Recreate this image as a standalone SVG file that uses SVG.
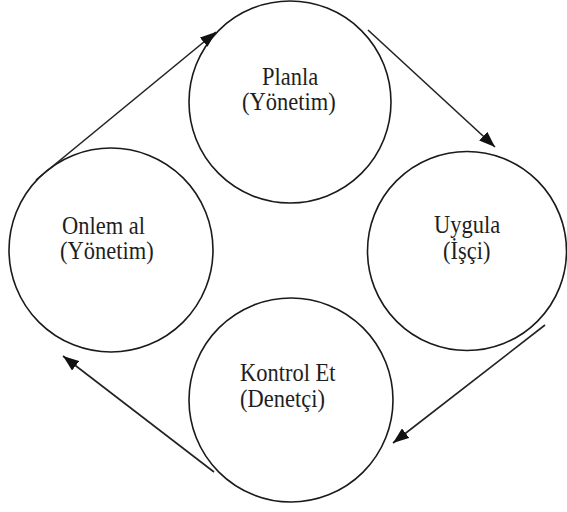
<svg xmlns="http://www.w3.org/2000/svg" width="567" height="512" viewBox="0 0 567 512">
  <style>
    .node circle { fill: #ffffff; stroke: #1a1a1a; stroke-width: 1.6; }
    .node text { font-family: "Liberation Serif", "Times New Roman", serif; font-size: 22.5px; fill: #1e1e1e; }
    #connectors line { stroke: #222222; stroke-width: 1.6; fill: none; marker-end: url(#head); }
  </style>
  <defs>
    <marker id="head" markerUnits="userSpaceOnUse" markerWidth="17" markerHeight="12" refX="16" refY="6" orient="auto">
      <path d="M0,0 L16,6 L0,12 Z" fill="#111111"/>
    </marker>
  </defs>

  <rect width="567" height="512" fill="#ffffff"/>

  <!-- labels are slightly stretched vertically, as in the printed chart -->
  <g id="node-planla" class="node">
    <circle cx="290" cy="102" r="101"/>
    <text transform="translate(262,85) scale(1,1.12)">Planla</text>
    <text transform="translate(242,110) scale(1,1.12)">(Yönetim)</text>
  </g>

  <g id="node-uygula" class="node">
    <circle cx="467" cy="251" r="99.5"/>
    <text transform="translate(434,233) scale(1,1.12)">Uygula</text>
    <text transform="translate(443,259) scale(1,1.12)">(İşçi)</text>
  </g>

  <g id="node-kontrol" class="node">
    <circle cx="291" cy="400" r="102"/>
    <text transform="translate(240,381) scale(1,1.12)">Kontrol Et</text>
    <text transform="translate(240,407) scale(1,1.12)">(Denetçi)</text>
  </g>

  <g id="node-onlem" class="node">
    <circle cx="111" cy="250" r="102"/>
    <text transform="translate(62,234) scale(1,1.12)">Onlem al</text>
    <text transform="translate(60,259) scale(1,1.12)">(Yönetim)</text>
  </g>

  <g id="connectors">
    <line x1="36" y1="180" x2="216" y2="32"/>
    <line x1="368" y1="30" x2="495" y2="147"/>
    <line x1="545" y1="325" x2="393" y2="443"/>
    <line x1="214" y1="472" x2="63" y2="356"/>
  </g>
</svg>
